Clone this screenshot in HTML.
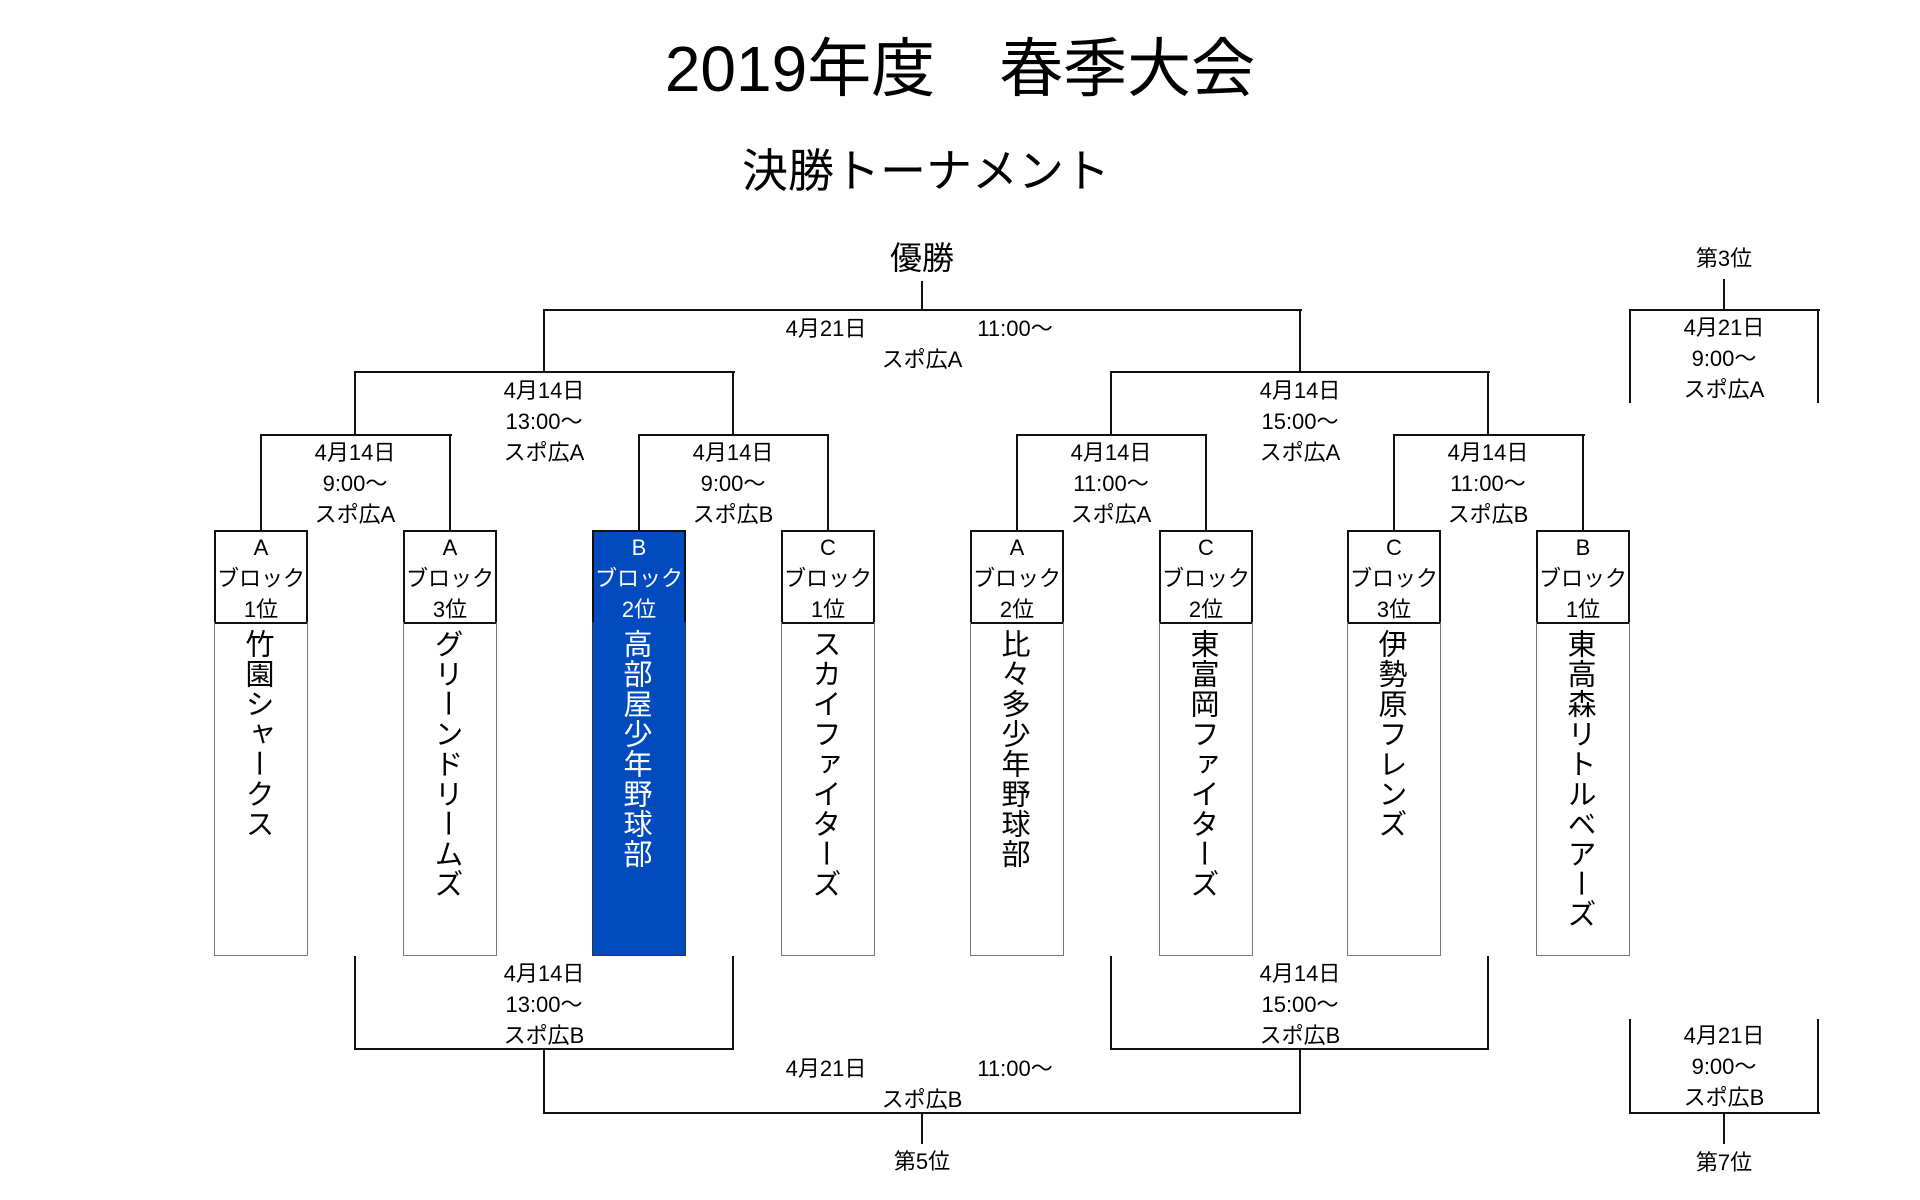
<!DOCTYPE html>
<html><head><meta charset="utf-8"><style>
body{margin:0;width:1920px;height:1200px;background:#fff;position:relative;overflow:hidden;font-family:"Liberation Sans","Noto Sans CJK JP",sans-serif;color:#000}
.t{position:absolute;transform:translate(-50%,-50%);white-space:nowrap;text-align:center}
.h{position:absolute;height:2px;background:#111}
.v{position:absolute;width:2px;background:#111}
.lb{position:absolute;transform:translateX(-50%);text-align:center;font-size:22px;line-height:31px;white-space:nowrap}
.box{position:absolute;width:94px;box-sizing:border-box}
.hd{position:absolute;top:530px;height:94px;border:2px solid #111;font-size:22px;line-height:31px;text-align:center;padding-top:0px}
.bd{position:absolute;top:622px;height:334px;border:1px solid #777;border-top:none}
.nm{writing-mode:vertical-rl;font-size:29px;letter-spacing:1px;line-height:32px;position:absolute;top:629px;width:32px;margin-left:-20px;text-align:start}
</style></head><body>
<div class="t" style="left:960px;top:64px;font-size:64px">2019年度　春季大会</div>
<div class="t" style="left:926px;top:168px;font-size:46px">決勝トーナメント</div>
<div class="t" style="left:922px;top:256px;font-size:32px">優勝</div>
<div class="v" style="left:921px;top:281px;height:30px"></div>
<div class="h" style="left:544px;top:309px;width:758px"></div>
<div class="v" style="left:543px;top:309px;height:64px"></div>
<div class="v" style="left:1299px;top:309px;height:64px"></div>
<div class="t" style="left:826px;top:327px;font-size:22px">4月21日</div>
<div class="t" style="left:1015px;top:327px;font-size:22px">11:00〜</div>
<div class="t" style="left:922px;top:358px;font-size:22px">スポ広A</div>
<div class="h" style="left:355px;top:371px;width:380px"></div>
<div class="h" style="left:1111px;top:371px;width:379px"></div>
<div class="v" style="left:354px;top:371px;height:64px"></div>
<div class="v" style="left:732px;top:371px;height:64px"></div>
<div class="v" style="left:1110px;top:371px;height:64px"></div>
<div class="v" style="left:1487px;top:371px;height:64px"></div>
<div class="lb" style="left:544px;top:375px">4月14日<br>13:00〜<br>スポ広A</div>
<div class="lb" style="left:1300px;top:375px">4月14日<br>15:00〜<br>スポ広A</div>
<div class="h" style="left:261px;top:434px;width:191px"></div>
<div class="h" style="left:639px;top:434px;width:190px"></div>
<div class="h" style="left:1017px;top:434px;width:190px"></div>
<div class="h" style="left:1394px;top:434px;width:191px"></div>
<div class="v" style="left:260px;top:434px;height:97px"></div>
<div class="v" style="left:449px;top:434px;height:97px"></div>
<div class="v" style="left:638px;top:434px;height:97px"></div>
<div class="v" style="left:827px;top:434px;height:97px"></div>
<div class="v" style="left:1016px;top:434px;height:97px"></div>
<div class="v" style="left:1205px;top:434px;height:97px"></div>
<div class="v" style="left:1393px;top:434px;height:97px"></div>
<div class="v" style="left:1582px;top:434px;height:97px"></div>
<div class="lb" style="left:355px;top:437px">4月14日<br>9:00〜<br>スポ広A</div>
<div class="lb" style="left:733px;top:437px">4月14日<br>9:00〜<br>スポ広B</div>
<div class="lb" style="left:1111px;top:437px">4月14日<br>11:00〜<br>スポ広A</div>
<div class="lb" style="left:1488px;top:437px">4月14日<br>11:00〜<br>スポ広B</div>
<div class="box hd" style="left:214px">A<br>ブロック<br>1位</div>
<div class="box bd" style="left:214px"></div>
<div class="nm" style="left:261px">竹園シャークス</div>
<div class="box hd" style="left:403px">A<br>ブロック<br>3位</div>
<div class="box bd" style="left:403px"></div>
<div class="nm" style="left:450px">グリーンドリームズ</div>
<div class="box hd" style="left:592px;background:#024bbf;color:#fff">B<br>ブロック<br>2位</div>
<div class="box bd" style="left:592px;background:#024bbf;border-color:#333"></div>
<div class="nm" style="left:639px;color:#fff">高部屋少年野球部</div>
<div class="box hd" style="left:781px">C<br>ブロック<br>1位</div>
<div class="box bd" style="left:781px"></div>
<div class="nm" style="left:828px">スカイファイターズ</div>
<div class="box hd" style="left:970px">A<br>ブロック<br>2位</div>
<div class="box bd" style="left:970px"></div>
<div class="nm" style="left:1017px">比々多少年野球部</div>
<div class="box hd" style="left:1159px">C<br>ブロック<br>2位</div>
<div class="box bd" style="left:1159px"></div>
<div class="nm" style="left:1206px">東富岡ファイターズ</div>
<div class="box hd" style="left:1347px">C<br>ブロック<br>3位</div>
<div class="box bd" style="left:1347px"></div>
<div class="nm" style="left:1394px">伊勢原フレンズ</div>
<div class="box hd" style="left:1536px">B<br>ブロック<br>1位</div>
<div class="box bd" style="left:1536px"></div>
<div class="nm" style="left:1583px">東高森リトルベアーズ</div>
<div class="v" style="left:354px;top:956px;height:94px"></div>
<div class="v" style="left:732px;top:956px;height:94px"></div>
<div class="h" style="left:354px;top:1048px;width:380px"></div>
<div class="v" style="left:1110px;top:956px;height:94px"></div>
<div class="v" style="left:1487px;top:956px;height:94px"></div>
<div class="h" style="left:1110px;top:1048px;width:379px"></div>
<div class="lb" style="left:544px;top:958px">4月14日<br>13:00〜<br>スポ広B</div>
<div class="lb" style="left:1300px;top:958px">4月14日<br>15:00〜<br>スポ広B</div>
<div class="v" style="left:543px;top:1048px;height:66px"></div>
<div class="v" style="left:1299px;top:1048px;height:66px"></div>
<div class="h" style="left:543px;top:1112px;width:758px"></div>
<div class="t" style="left:826px;top:1067px;font-size:22px">4月21日</div>
<div class="t" style="left:1015px;top:1067px;font-size:22px">11:00〜</div>
<div class="t" style="left:922px;top:1098px;font-size:22px">スポ広B</div>
<div class="v" style="left:921px;top:1112px;height:32px"></div>
<div class="t" style="left:922px;top:1160px;font-size:22px">第5位</div>
<div class="t" style="left:1724px;top:257px;font-size:22px">第3位</div>
<div class="v" style="left:1723px;top:279px;height:31px"></div>
<div class="h" style="left:1630px;top:309px;width:190px"></div>
<div class="v" style="left:1629px;top:309px;height:94px"></div>
<div class="v" style="left:1817px;top:309px;height:94px"></div>
<div class="lb" style="left:1724px;top:312px">4月21日<br>9:00〜<br>スポ広A</div>
<div class="v" style="left:1629px;top:1019px;height:95px"></div>
<div class="v" style="left:1817px;top:1019px;height:95px"></div>
<div class="h" style="left:1630px;top:1112px;width:190px"></div>
<div class="lb" style="left:1724px;top:1020px">4月21日<br>9:00〜<br>スポ広B</div>
<div class="v" style="left:1723px;top:1112px;height:32px"></div>
<div class="t" style="left:1724px;top:1161px;font-size:22px">第7位</div>
</body></html>
